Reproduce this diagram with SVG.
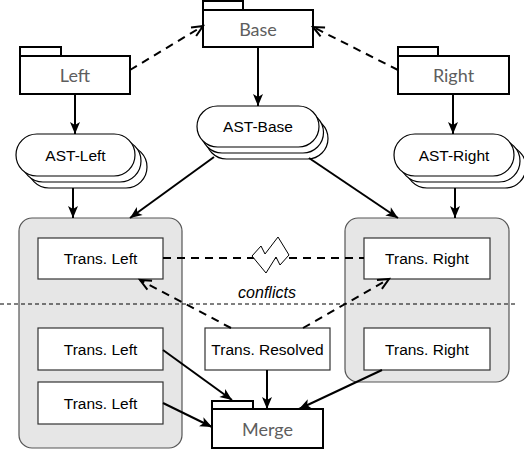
<svg xmlns="http://www.w3.org/2000/svg" width="524" height="451" viewBox="0 0 524 451">
<style>
.pkg{fill:#fff;stroke:#000;stroke-width:2}
.pkgtxt{font-family:Lato,"Open Sans",sans-serif;font-size:18px;fill:#5e5e5e;text-anchor:middle;dominant-baseline:central}
.pill{fill:#fff;stroke:#000;stroke-width:1.2}
.box{fill:#fff;stroke:#333;stroke-width:1.2}
.cont{fill:#e6e6e6;stroke:#555;stroke-width:1.2}
.txt{font-family:"Liberation Sans",Arial,sans-serif;font-size:15.5px;fill:#000;text-anchor:middle;dominant-baseline:central}
.solid{fill:none;stroke:#000;stroke-width:2;marker-end:url(#fill)}
.dash{fill:none;stroke:#000;stroke-width:2;stroke-dasharray:8 6}
.dashA{fill:none;stroke:#000;stroke-width:2;stroke-dasharray:8 6;marker-end:url(#open)}
</style>
<defs>
<marker id="fill" markerUnits="userSpaceOnUse" markerWidth="13" markerHeight="11" refX="12" refY="5" orient="auto" overflow="visible">
<path d="M0,0 L12,5 L0,10 L3,5 Z" fill="#000"/>
</marker>
<marker id="open" markerUnits="userSpaceOnUse" markerWidth="13" markerHeight="11" refX="11" refY="5" orient="auto" overflow="visible">
<path d="M0,0 L11,5 L0,10" fill="none" stroke="#000" stroke-width="2" stroke-dasharray="none"/>
</marker>
</defs>

<g id="container-left"><rect class="cont" x="19" y="218" width="163" height="230" rx="13"/></g>
<g id="container-right"><rect class="cont" x="345" y="218" width="164" height="164" rx="13"/></g>

<line x1="0" y1="304" x2="518" y2="304" stroke="#000" stroke-width="1" stroke-dasharray="4 3"/>

<g id="base">
<rect class="pkg" x="203" y="1" width="40" height="9"/>
<rect class="pkg" x="203" y="10" width="110" height="37"/>
<text class="pkgtxt" x="258" y="29">Base</text>
</g>
<g id="left">
<rect class="pkg" x="20" y="47" width="41" height="9"/>
<rect class="pkg" x="20" y="56" width="110" height="38"/>
<text class="pkgtxt" x="75" y="75">Left</text>
</g>
<g id="right">
<rect class="pkg" x="398" y="47" width="40" height="9"/>
<rect class="pkg" x="398" y="56" width="111" height="38"/>
<text class="pkgtxt" x="453.5" y="75">Right</text>
</g>
<g id="merge">
<rect class="pkg" x="212" y="401" width="41" height="8"/>
<rect class="pkg" x="212" y="409" width="111" height="39"/>
<text class="pkgtxt" x="267.5" y="429">Merge</text>
</g>

<g id="ast-left">
<rect class="pill" x="28" y="146" width="119" height="42" rx="21"/>
<rect class="pill" x="22" y="140" width="119" height="42" rx="21"/>
<rect class="pill" x="16" y="134" width="119" height="42" rx="21"/>
<text class="txt" x="75.5" y="155">AST-Left</text>
</g>
<g id="ast-base">
<rect class="pill" x="206" y="118" width="122" height="41" rx="20.5"/>
<rect class="pill" x="201.5" y="112" width="122" height="41" rx="20.5"/>
<rect class="pill" x="197" y="106" width="122" height="41" rx="20.5"/>
<text class="txt" x="258" y="126.5">AST-Base</text>
</g>
<g id="ast-right">
<rect class="pill" x="406" y="146" width="120" height="42" rx="21"/>
<rect class="pill" x="400" y="140" width="120" height="42" rx="21"/>
<rect class="pill" x="394" y="134" width="120" height="42" rx="21"/>
<text class="txt" x="454" y="155">AST-Right</text>
</g>

<g id="trans-left-1"><rect class="box" x="38" y="238" width="125" height="41"/><text class="txt" x="100.5" y="258.5">Trans. Left</text></g>
<g id="trans-left-2"><rect class="box" x="38" y="328" width="125" height="42"/><text class="txt" x="100.5" y="349">Trans. Left</text></g>
<g id="trans-left-3"><rect class="box" x="38" y="382" width="125" height="42"/><text class="txt" x="100.5" y="403">Trans. Left</text></g>
<g id="trans-right-1"><rect class="box" x="364" y="238" width="126" height="41"/><text class="txt" x="427" y="258.5">Trans. Right</text></g>
<g id="trans-right-2"><rect class="box" x="364" y="328" width="126" height="42"/><text class="txt" x="427" y="349">Trans. Right</text></g>
<g id="trans-resolved"><rect class="box" x="205" y="328" width="125" height="42"/><text class="txt" x="267.5" y="349">Trans. Resolved</text></g>

<g id="connectors">
<path class="dashA" d="M130,70 L203,26"/>
<path class="dashA" d="M398,70 L313,27"/>
<path class="solid" d="M258,47 L258,106"/>
<path class="solid" d="M75,94 L75,134"/>
<path class="solid" d="M453,94 L453,134"/>
<path class="solid" d="M73,188 L73,218"/>
<path class="solid" d="M455,188 L455,218"/>
<path class="solid" d="M214,157 L130,218"/>
<path class="solid" d="M309,158 L398,218"/>
<path class="dash" d="M163,258 L364,258"/>
<path class="dashA" d="M231,328 L140,280"/>
<path class="dashA" d="M303,328 L389,279"/>
<path class="solid" d="M163,350 L232,400"/>
<path class="solid" d="M163,403 L212,427"/>
<path class="solid" d="M267,370 L267,409"/>
<path class="solid" d="M382,370 L299,409"/>
<polygon points="252,256 261,246 265,254 278,237 289,255 280,265 276,257 266,273" fill="#fff" stroke="#000" stroke-width="1"/>
<text x="267" y="292" font-family="'Liberation Sans',Arial,sans-serif" font-size="16" font-style="italic" text-anchor="middle" dominant-baseline="central">conflicts</text>
</g>
</svg>
